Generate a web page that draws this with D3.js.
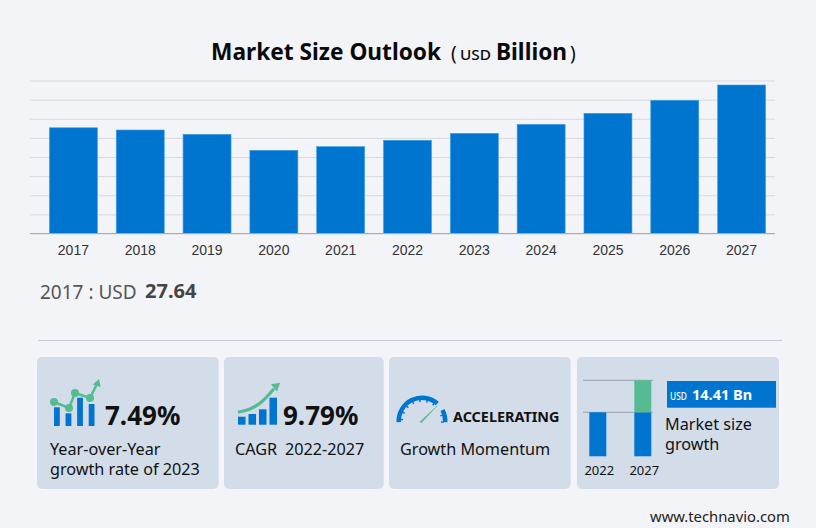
<!DOCTYPE html>
<html>
<head>
<meta charset="utf-8">
<script src="https://cdn.jsdelivr.net/npm/d3@7"></script>
<style>
  html, body { margin: 0; padding: 0; background: #f3f4f7; }
  svg { display: block; }
  text { font-family: "Noto Sans", sans-serif; }
  .grid line { stroke: #d8d9dd; stroke-width: 1; }
  .grid path { display: none; }
  .xaxis path { stroke: #a9a9ad; stroke-width: 1; }
  .xaxis line { display: none; }
  .xaxis text { font-family: "Liberation Sans", sans-serif; font-size: 14px; fill: #333; }
</style>
</head>
<body>
<div id="chart"></div>
<script>
var years = ["2017", "2018", "2019", "2020", "2021", "2022", "2023", "2024", "2025", "2026", "2027"];
var sizes = [27.64, 27.06, 25.93, 21.75, 22.7, 24.37, 26.19, 28.55, 31.42, 34.82, 38.82];
var gridTicks = [0, 5, 10, 15, 20, 25, 30, 35, 40];

// small bars in the bottom right card
var miniYears = ["2022", "2027"];
var miniBase = [19.8, 19.8];
var miniGrowth = [0, 14.41];

// icon data
var yoyBars = [18.7, 12.7, 28.3, 22];
var yoyLine = [[0, 24], [15, 18], [21, 33], [36, 28], [43, 42]];
var cagrBars = [8, 10.7, 15.4, 27];
var cagrCurve = [[0, 12.5], [12, 15], [24, 22], [36, 36]];
var gaugeTicks = [-1.5, -1.15, -0.8, -0.45, -0.1, 0.25, 0.6, 1.3, 1.62];

var cards = [
  { x: 37, w: 181.7 },
  { x: 224, w: 159.7 },
  { x: 389, w: 181.7 },
  { x: 577, w: 202 }
];

var blue = "#0075cf";
var green = "#56bb93";
var cardFill = "#d3ddea";
var dark = "#111";

var svg = d3.select("#chart").append("svg").attr("width", 816).attr("height", 528);

svg.append("text").attr("x", 211).attr("y", 60)
  .attr("font-size", 22.7).attr("font-weight", 700).attr("fill", "#0a0a0a").text("Market Size Outlook");
svg.append("text").attr("x", 451).attr("y", 60).attr("font-size", 19).attr("fill", "#0a0a0a").text("(");
svg.append("text").attr("x", 460).attr("y", 60).attr("font-size", 15).attr("font-weight", 500)
  .attr("textLength", 31).attr("lengthAdjust", "spacingAndGlyphs").attr("fill", "#0a0a0a").text("USD");
svg.append("text").attr("x", 496).attr("y", 60).attr("font-size", 22.7).attr("font-weight", 700).attr("fill", "#0a0a0a").text("Billion");
svg.append("text").attr("x", 570).attr("y", 60).attr("font-size", 19).attr("fill", "#0a0a0a").text(")");

// main bars
var x = d3.scaleBand().domain(years).range([40, 775]).paddingInner(0.282).paddingOuter(0.141);
var y = d3.scaleLinear().domain([0, 40]).range([233.5, 80.5]);

svg.append("g").attr("class", "grid").attr("transform", "translate(30,0)")
  .call(d3.axisRight(y).tickValues(gridTicks).tickSize(745).tickFormat(""));

svg.selectAll(".bar").data(sizes).enter().append("rect")
  .attr("class", "bar")
  .attr("x", function(d, i) { return x(years[i]); })
  .attr("y", function(d) { return y(d); })
  .attr("width", x.bandwidth())
  .attr("height", function(d) { return y(0) - y(d); })
  .attr("fill", blue)
  .attr("stroke", "#3f9fe6").attr("stroke-width", 0.6);

var xAxis = svg.append("g").attr("class", "xaxis").attr("transform", "translate(0,233.5)")
  .call(d3.axisBottom(x).tickSize(0).tickPadding(12));
xAxis.select("path").attr("d", "M30,0H775");

// value readout
svg.append("text").attr("x", 40).attr("y", 299).attr("font-size", 19).attr("fill", "#555").text(years[0] + " : USD");
svg.append("text").attr("x", 145).attr("y", 298).attr("font-size", 20).attr("font-weight", 700).attr("fill", "#444").text(sizes[0]);

svg.append("line").attr("x1", 38).attr("x2", 782).attr("y1", 340.5).attr("y2", 340.5)
  .attr("stroke", "#c6c8dc");

svg.selectAll(".card").data(cards).enter().append("rect")
  .attr("class", "card")
  .attr("x", function(d) { return d.x; }).attr("y", 357)
  .attr("width", function(d) { return d.w; }).attr("height", 132)
  .attr("rx", 5).attr("fill", cardFill);

// year over year icon
var yoyX = d3.scaleBand().domain(d3.range(yoyBars.length)).range([54, 94.5]).paddingInner(0.5);
var yoyY = d3.scaleLinear().domain([0, 30]).range([426, 396]);
svg.selectAll(".yoyBar").data(yoyBars).enter().append("rect")
  .attr("x", function(d, i) { return yoyX(i); })
  .attr("y", function(d) { return yoyY(d); })
  .attr("width", yoyX.bandwidth())
  .attr("height", function(d) { return yoyY(0) - yoyY(d); })
  .attr("fill", blue);
var yoyLx = d3.scaleLinear().domain([0, 43]).range([54, 97]);
var yoyLy = d3.scaleLinear().domain([0, 42]).range([426, 384]);
var yoyPath = d3.line().x(function(d) { return yoyLx(d[0]); }).y(function(d) { return yoyLy(d[1]); });
svg.append("path").attr("d", yoyPath(yoyLine)).attr("fill", "none").attr("stroke", green).attr("stroke-width", 2.6);
svg.selectAll(".yoyDot").data(yoyLine.slice(0, 4)).enter().append("circle")
  .attr("cx", function(d) { return yoyLx(d[0]); })
  .attr("cy", function(d) { return yoyLy(d[1]); })
  .attr("r", 4).attr("fill", green);
svg.append("path").attr("d", d3.symbol(d3.symbolTriangle, 30))
  .attr("transform", "translate(" + yoyLx(43.5) + "," + yoyLy(42.5) + ") rotate(18)").attr("fill", green);

// cagr icon
var cagrX = d3.scaleBand().domain(d3.range(cagrBars.length)).range([238, 277]).paddingInner(0.28);
var cagrY = d3.scaleLinear().domain([0, 27]).range([424.7, 397.7]);
svg.selectAll(".cagrBar").data(cagrBars).enter().append("rect")
  .attr("x", function(d, i) { return cagrX(i); })
  .attr("y", function(d) { return cagrY(d); })
  .attr("width", cagrX.bandwidth())
  .attr("height", function(d) { return cagrY(0) - cagrY(d); })
  .attr("fill", blue);
var cagrLx = d3.scaleLinear().domain([0, 36]).range([238, 274]);
var cagrPath = d3.line().curve(d3.curveBasis)
  .x(function(d) { return cagrLx(d[0]); })
  .y(function(d) { return cagrY(d[1]); });
svg.append("path").attr("d", cagrPath(cagrCurve)).attr("fill", "none").attr("stroke", green).attr("stroke-width", 3.2);
svg.append("path").attr("d", d3.symbol(d3.symbolTriangle, 38))
  .attr("transform", "translate(" + cagrLx(38) + "," + cagrY(38.5) + ") rotate(50)").attr("fill", green);

// gauge icon
var gaugeArc = d3.arc().innerRadius(21).outerRadius(25.5);
var gauge = svg.append("g").attr("transform", "translate(422,421)");
gauge.append("path").attr("d", gaugeArc({ startAngle: -1.62, endAngle: 0.72 })).attr("fill", blue);
gauge.append("path").attr("d", gaugeArc({ startAngle: 1.08, endAngle: 1.62 })).attr("fill", blue);
gauge.selectAll(".gt").data(gaugeTicks).enter().append("line")
  .attr("x1", function(d) { return 19 * Math.sin(d); })
  .attr("y1", function(d) { return -19 * Math.cos(d); })
  .attr("x2", function(d) { return 22 * Math.sin(d); })
  .attr("y2", function(d) { return -22 * Math.cos(d); })
  .attr("stroke", blue).attr("stroke-width", 1.4);
var needle = d3.line();
gauge.append("path").attr("d", needle([[-2.5, 1], [19, -19], [-0.5, 2]]) + "Z").attr("fill", green);

// mini stacked bars
var miniX = d3.scalePoint().domain(miniYears).range([597.8, 642.8]);
var miniY = d3.scaleLinear().domain([0, 34.21]).range([456.3, 380.3]);
[19.8, 34.21].forEach(function(v) {
  svg.append("line").attr("x1", 583).attr("x2", 653).attr("y1", miniY(v)).attr("y2", miniY(v))
    .attr("stroke", "#93a3b5").attr("stroke-width", 1);
});
svg.selectAll(".miniBase").data(miniBase).enter().append("rect")
  .attr("x", function(d, i) { return miniX(miniYears[i]) - 8.5; })
  .attr("y", function(d) { return miniY(d); })
  .attr("width", 17)
  .attr("height", function(d) { return miniY(0) - miniY(d); })
  .attr("fill", blue);
svg.selectAll(".miniGrowth").data(miniGrowth).enter().append("rect")
  .attr("x", function(d, i) { return miniX(miniYears[i]) - 8.5; })
  .attr("y", function(d, i) { return miniY(miniBase[i] + d); })
  .attr("width", 17)
  .attr("height", function(d, i) { return miniY(miniBase[i]) - miniY(miniBase[i] + d); })
  .attr("fill", green);
svg.selectAll(".miniLabel").data(miniYears).enter().append("text")
  .attr("x", function(d) { return miniX(d) + 1.5; }).attr("y", 475)
  .attr("text-anchor", "middle").attr("font-size", 13).attr("fill", dark)
  .text(function(d) { return d; });

// card text
function label(txt, tx, ty, size, weight) {
  return svg.append("text").attr("x", tx).attr("y", ty).attr("font-size", size)
    .attr("font-weight", weight || 400).attr("fill", dark).text(txt);
}
label("7.49%", 105, 425, 26, 700);
label("Year-over-Year", 50, 455, 16.2);
label("growth rate of 2023", 50, 475, 16.2);
label("9.79%", 283, 425, 26, 700);
label("CAGR", 235, 455, 16.2);
label("2022-2027", 285, 455, 16.2);
label("ACCELERATING", 453, 422, 14.4, 700);
label("Growth Momentum", 400, 455, 16.2);
label("Market size", 665, 430, 16.2);
label("growth", 665, 450, 16.2);

svg.append("rect").attr("x", 667).attr("y", 381).attr("width", 109).attr("height", 26.7).attr("fill", blue);
svg.append("text").attr("x", 670).attr("y", 400).attr("font-size", 11).attr("font-weight", 500)
  .attr("textLength", 17).attr("lengthAdjust", "spacingAndGlyphs").attr("fill", "#fff").text("USD");
svg.append("text").attr("x", 692).attr("y", 400).attr("font-size", 14.5).attr("font-weight", 700)
  .attr("fill", "#fff").text(miniGrowth[1] + " Bn");

svg.append("text").attr("x", 650).attr("y", 522).attr("font-size", 14.8).attr("fill", "#222").text("www.technavio.com");
</script>
</body>
</html>
